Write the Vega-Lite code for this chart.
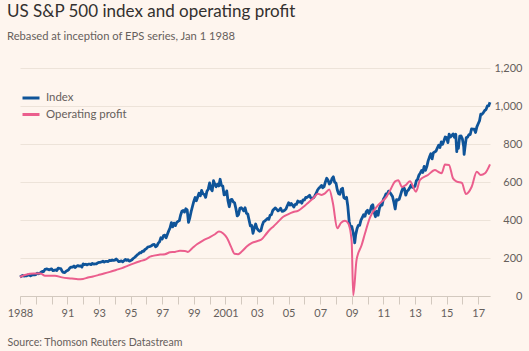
{
"$schema": "https://vega.github.io/schema/vega-lite/v6.json",
"width": 470, "height": 228,
"autosize": {"type": "none"},
"padding": {"left": 20, "top": 68, "right": 39, "bottom": 55},
"background": "#fef5ee",
"title": {"text": "US S&P 500 index and operating profit", "subtitle": "Rebased at inception of EPS series, Jan 1 1988", "anchor": "start", "frame": "bounds", "offset": 19, "fontSize": 17, "fontWeight": "normal", "color": "#33302E", "font": "Lato", "subtitleFont": "Lato", "subtitleColor": "#66605C", "subtitleFontSize": 11.2, "subtitlePadding": 10},
"datasets": {
"index": [
{"d":"1988-01","v":100},{"d":"1988-02","v":104.1},{"d":"1988-03","v":108.4},{"d":"1988-04","v":104.8},{"d":"1988-05","v":105.8},{"d":"1988-06","v":106.1},{"d":"1988-07","v":110.7},{"d":"1988-08","v":110.1},{"d":"1988-09","v":105.9},{"d":"1988-10","v":110.1},{"d":"1988-11","v":112.9},{"d":"1988-12","v":110.8},
{"d":"1989-01","v":112.4},{"d":"1989-02","v":120.4},{"d":"1989-03","v":117.0},{"d":"1989-04","v":119.4},{"d":"1989-05","v":125.3},{"d":"1989-06","v":129.8},{"d":"1989-07","v":128.7},{"d":"1989-08","v":140.1},{"d":"1989-09","v":142.3},{"d":"1989-10","v":141.4},{"d":"1989-11","v":137.8},{"d":"1989-12","v":140.1},
{"d":"1990-01","v":143.1},{"d":"1990-02","v":133.2},{"d":"1990-03","v":134.4},{"d":"1990-04","v":137.6},{"d":"1990-05","v":133.9},{"d":"1990-06","v":146.2},{"d":"1990-07","v":144.9},{"d":"1990-08","v":144.2},{"d":"1990-09","v":130.6},{"d":"1990-10","v":123.9},{"d":"1990-11","v":123.1},{"d":"1990-12","v":130.4},
{"d":"1991-01","v":133.7},{"d":"1991-02","v":139.2},{"d":"1991-03","v":148.6},{"d":"1991-04","v":151.9},{"d":"1991-05","v":151.9},{"d":"1991-06","v":157.8},{"d":"1991-07","v":150.3},{"d":"1991-08","v":157.0},{"d":"1991-09","v":160.1},{"d":"1991-10","v":157.0},{"d":"1991-11","v":158.9},{"d":"1991-12","v":151.9},
{"d":"1992-01","v":168.9},{"d":"1992-02","v":165.5},{"d":"1992-03","v":167.1},{"d":"1992-04","v":163.4},{"d":"1992-05","v":168.0},{"d":"1992-06","v":168.2},{"d":"1992-07","v":165.2},{"d":"1992-08","v":171.7},{"d":"1992-09","v":167.6},{"d":"1992-10","v":169.1},{"d":"1992-11","v":169.5},{"d":"1992-12","v":174.7},
{"d":"1993-01","v":176.4},{"d":"1993-02","v":177.6},{"d":"1993-03","v":179.5},{"d":"1993-04","v":182.9},{"d":"1993-05","v":178.2},{"d":"1993-06","v":182.3},{"d":"1993-07","v":182.6},{"d":"1993-08","v":181.4},{"d":"1993-09","v":187.7},{"d":"1993-10","v":185.8},{"d":"1993-11","v":189.4},{"d":"1993-12","v":187.0},
{"d":"1994-01","v":188.9},{"d":"1994-02","v":195.0},{"d":"1994-03","v":189.1},{"d":"1994-04","v":180.5},{"d":"1994-05","v":182.6},{"d":"1994-06","v":184.8},{"d":"1994-07","v":179.9},{"d":"1994-08","v":185.5},{"d":"1994-09","v":192.5},{"d":"1994-10","v":187.3},{"d":"1994-11","v":191.3},{"d":"1994-12","v":183.7},
{"d":"1995-01","v":186.0},{"d":"1995-02","v":190.4},{"d":"1995-03","v":197.3},{"d":"1995-04","v":202.7},{"d":"1995-05","v":208.4},{"d":"1995-06","v":216.0},{"d":"1995-07","v":220.6},{"d":"1995-08","v":227.6},{"d":"1995-09","v":227.5},{"d":"1995-10","v":236.6},{"d":"1995-11","v":235.4},{"d":"1995-12","v":245.1},
{"d":"1996-01","v":249.4},{"d":"1996-02","v":257.5},{"d":"1996-03","v":259.3},{"d":"1996-04","v":261.3},{"d":"1996-05","v":264.9},{"d":"1996-06","v":270.9},{"d":"1996-07","v":271.5},{"d":"1996-08","v":259.1},{"d":"1996-09","v":264.0},{"d":"1996-10","v":278.3},{"d":"1996-11","v":285.5},{"d":"1996-12","v":306.5},
{"d":"1997-01","v":299.9},{"d":"1997-02","v":318.3},{"d":"1997-03","v":320.2},{"d":"1997-04","v":306.5},{"d":"1997-05","v":324.4},{"d":"1997-06","v":343.4},{"d":"1997-07","v":358.3},{"d":"1997-08","v":386.4},{"d":"1997-09","v":364.2},{"d":"1997-10","v":383.5},{"d":"1997-11","v":370.3},{"d":"1997-12","v":386.8},
{"d":"1998-01","v":392.9},{"d":"1998-02","v":396.9},{"d":"1998-03","v":424.8},{"d":"1998-04","v":446.1},{"d":"1998-05","v":450.1},{"d":"1998-06","v":441.6},{"d":"1998-07","v":459.0},{"d":"1998-08","v":453.7},{"d":"1998-09","v":387.6},{"d":"1998-10","v":411.7},{"d":"1998-11","v":444.8},{"d":"1998-12","v":471.1},
{"d":"1999-01","v":497.7},{"d":"1999-02","v":518.1},{"d":"1999-03","v":501.3},{"d":"1999-04","v":520.8},{"d":"1999-05","v":540.6},{"d":"1999-06","v":527.0},{"d":"1999-07","v":555.8},{"d":"1999-08","v":537.9},{"d":"1999-09","v":534.6},{"d":"1999-10","v":519.3},{"d":"1999-11","v":551.8},{"d":"1999-12","v":562.3},
{"d":"2000-01","v":594.9},{"d":"2000-02","v":564.6},{"d":"2000-03","v":553.2},{"d":"2000-04","v":606.7},{"d":"2000-05","v":588.0},{"d":"2000-06","v":575.1},{"d":"2000-07","v":588.9},{"d":"2000-08","v":579.3},{"d":"2000-09","v":614.4},{"d":"2000-10","v":581.6},{"d":"2000-11","v":578.7},{"d":"2000-12","v":532.5},
{"d":"2001-01","v":534.5},{"d":"2001-02","v":553.0},{"d":"2001-03","v":502.0},{"d":"2001-04","v":469.8},{"d":"2001-05","v":505.9},{"d":"2001-06","v":508.4},{"d":"2001-07","v":495.7},{"d":"2001-08","v":490.4},{"d":"2001-09","v":458.9},{"d":"2001-10","v":421.4},{"d":"2001-11","v":429.1},{"d":"2001-12","v":461.3},
{"d":"2002-01","v":464.8},{"d":"2002-02","v":457.6},{"d":"2002-03","v":448.1},{"d":"2002-04","v":464.5},{"d":"2002-05","v":436.0},{"d":"2002-06","v":432.0},{"d":"2002-07","v":400.7},{"d":"2002-08","v":369.1},{"d":"2002-09","v":370.9},{"d":"2002-10","v":330.1},{"d":"2002-11","v":358.6},{"d":"2002-12","v":379.1},
{"d":"2003-01","v":356.2},{"d":"2003-02","v":346.4},{"d":"2003-03","v":340.6},{"d":"2003-04","v":343.4},{"d":"2003-05","v":371.2},{"d":"2003-06","v":390.1},{"d":"2003-07","v":394.5},{"d":"2003-08","v":400.9},{"d":"2003-09","v":408.1},{"d":"2003-10","v":403.2},{"d":"2003-11","v":425.4},{"d":"2003-12","v":428.4},
{"d":"2004-01","v":450.2},{"d":"2004-02","v":457.9},{"d":"2004-03","v":463.5},{"d":"2004-04","v":456.0},{"d":"2004-05","v":448.3},{"d":"2004-06","v":453.7},{"d":"2004-07","v":461.9},{"d":"2004-08","v":446.0},{"d":"2004-09","v":447.0},{"d":"2004-10","v":451.3},{"d":"2004-11","v":457.6},{"d":"2004-12","v":475.2},
{"d":"2005-01","v":490.6},{"d":"2005-02","v":478.3},{"d":"2005-03","v":487.3},{"d":"2005-04","v":478.0},{"d":"2005-05","v":468.4},{"d":"2005-06","v":482.4},{"d":"2005-07","v":482.3},{"d":"2005-08","v":499.7},{"d":"2005-09","v":494.1},{"d":"2005-10","v":497.5},{"d":"2005-11","v":488.7},{"d":"2005-12","v":505.9},
{"d":"2006-01","v":505.4},{"d":"2006-02","v":518.3},{"d":"2006-03","v":518.5},{"d":"2006-04","v":524.2},{"d":"2006-05","v":530.6},{"d":"2006-06","v":514.2},{"d":"2006-07","v":514.3},{"d":"2006-08","v":516.9},{"d":"2006-09","v":527.9},{"d":"2006-10","v":540.8},{"d":"2006-11","v":557.9},{"d":"2006-12","v":567.1},
{"d":"2007-01","v":574.2},{"d":"2007-02","v":582.3},{"d":"2007-03","v":569.6},{"d":"2007-04","v":575.3},{"d":"2007-05","v":600.2},{"d":"2007-06","v":619.7},{"d":"2007-07","v":608.7},{"d":"2007-08","v":589.2},{"d":"2007-09","v":596.8},{"d":"2007-10","v":618.1},{"d":"2007-11","v":627.3},{"d":"2007-12","v":599.6},
{"d":"2008-01","v":594.5},{"d":"2008-02","v":558.1},{"d":"2008-03","v":538.7},{"d":"2008-04","v":535.5},{"d":"2008-05","v":561.0},{"d":"2008-06","v":567.0},{"d":"2008-07","v":518.2},{"d":"2008-08","v":513.1},{"d":"2008-09","v":519.4},{"d":"2008-10","v":472.2},{"d":"2008-11","v":392.2},{"d":"2008-12","v":362.8},
{"d":"2009-01","v":365.7},{"d":"2009-02","v":334.4},{"d":"2009-03","v":297.6},{"d":"2009-03-09","v":280},{"d":"2009-04","v":323.0},{"d":"2009-05","v":353.4},{"d":"2009-06","v":372.1},{"d":"2009-07","v":372.2},{"d":"2009-08","v":399.8},{"d":"2009-09","v":413.2},{"d":"2009-10","v":428.0},{"d":"2009-11","v":419.5},{"d":"2009-12","v":443.6},
{"d":"2010-01","v":451.5},{"d":"2010-02","v":434.8},{"d":"2010-03","v":447.2},{"d":"2010-04","v":473.4},{"d":"2010-05","v":480.4},{"d":"2010-06","v":441.1},{"d":"2010-07","v":417.3},{"d":"2010-08","v":446.0},{"d":"2010-09","v":424.8},{"d":"2010-10","v":462.0},{"d":"2010-11","v":479.1},{"d":"2010-12","v":478.0},
{"d":"2011-01","v":509.2},{"d":"2011-02","v":520.7},{"d":"2011-03","v":537.3},{"d":"2011-04","v":536.8},{"d":"2011-05","v":552.1},{"d":"2011-06","v":544.6},{"d":"2011-07","v":534.7},{"d":"2011-08","v":523.2},{"d":"2011-09","v":493.5},{"d":"2011-10","v":458.1},{"d":"2011-11","v":507.4},{"d":"2011-12","v":504.9},
{"d":"2012-01","v":509.2},{"d":"2012-02","v":531.3},{"d":"2012-03","v":552.9},{"d":"2012-04","v":570.2},{"d":"2012-05","v":565.9},{"d":"2012-06","v":530.5},{"d":"2012-07","v":551.5},{"d":"2012-08","v":558.4},{"d":"2012-09","v":569.5},{"d":"2012-10","v":583.3},{"d":"2012-11","v":571.7},{"d":"2012-12","v":573.4},
{"d":"2013-01","v":577.4},{"d":"2013-02","v":606.5},{"d":"2013-03","v":613.2},{"d":"2013-04","v":635.3},{"d":"2013-05","v":646.8},{"d":"2013-06","v":660.2},{"d":"2013-07","v":650.3},{"d":"2013-08","v":682.5},{"d":"2013-09","v":661.1},{"d":"2013-10","v":680.8},{"d":"2013-11","v":711.1},{"d":"2013-12","v":731.1},
{"d":"2014-01","v":748.3},{"d":"2014-02","v":721.7},{"d":"2014-03","v":752.8},{"d":"2014-04","v":758.0},{"d":"2014-05","v":762.7},{"d":"2014-06","v":778.8},{"d":"2014-07","v":793.6},{"d":"2014-08","v":781.7},{"d":"2014-09","v":811.1},{"d":"2014-10","v":798.5},{"d":"2014-11","v":817.0},{"d":"2014-12","v":837.1},
{"d":"2015-01","v":833.6},{"d":"2015-02","v":807.7},{"d":"2015-03","v":852.0},{"d":"2015-04","v":837.2},{"d":"2015-05","v":844.3},{"d":"2015-06","v":853.2},{"d":"2015-07","v":835.3},{"d":"2015-08","v":851.7},{"d":"2015-08-25","v":760},{"d":"2015-09","v":798.5},{"d":"2015-10","v":777.3},{"d":"2015-11","v":841.9},{"d":"2015-12","v":842.3},
{"d":"2016-01","v":827.5},{"d":"2016-02","v":785.5},{"d":"2016-02-11","v":745},{"d":"2016-03","v":782.3},{"d":"2016-04","v":833.9},{"d":"2016-05","v":836.2},{"d":"2016-06","v":849.0},{"d":"2016-07","v":849.8},{"d":"2016-08","v":880.0},{"d":"2016-09","v":878.9},{"d":"2016-10","v":877.9},{"d":"2016-11","v":860.8},{"d":"2016-12","v":890.3},
{"d":"2017-01","v":906.4},{"d":"2017-02","v":922.6},{"d":"2017-03","v":956.9},{"d":"2017-04","v":956.6},{"d":"2017-05","v":965.3},{"d":"2017-06","v":976.4},{"d":"2017-07","v":981.1},{"d":"2017-08","v":1000.1},{"d":"2017-09","v":1000.7},{"d":"2017-10","v":1020.0}
],
"profit": [
{"d":"1988-01-01","v":100},{"d":"1988-05-15","v":112},{"d":"1988-11-20","v":118},{"d":"1989-04-20","v":118},{"d":"1989-08-01","v":107},{"d":"1990-03-20","v":107},{"d":"1990-08-28","v":98},{"d":"1991-04-15","v":92},{"d":"1991-09-01","v":88},{"d":"1991-12-28","v":90},{"d":"1992-04-20","v":97},{"d":"1992-08-15","v":103},{"d":"1992-12-10","v":110},{"d":"1993-04-25","v":118},{"d":"1993-09-12","v":127},{"d":"1994-01-30","v":137},{"d":"1994-06-17","v":147},{"d":"1994-11-03","v":160},{"d":"1995-03-20","v":172},{"d":"1995-08-05","v":183},{"d":"1995-12-20","v":193},{"d":"1996-03-25","v":207},{"d":"1996-11-10","v":218},{"d":"1997-03-07","v":220},{"d":"1997-07-01","v":230},{"d":"1997-10-23","v":232},{"d":"1998-02-16","v":238},{"d":"1998-06-10","v":237},{"d":"1998-08-18","v":232},{"d":"1998-11-20","v":250},{"d":"1999-03-15","v":272},{"d":"1999-07-30","v":292},{"d":"2000-01-10","v":310},{"d":"2000-05-05","v":325},{"d":"2000-08-05","v":339},{"d":"2000-11-05","v":330},{"d":"2001-02-07","v":305},{"d":"2001-05-10","v":260},{"d":"2001-07-30","v":222},{"d":"2001-10-20","v":220},{"d":"2002-01-20","v":235},{"d":"2002-05-15","v":262},{"d":"2002-09-07","v":280},{"d":"2003-01-23","v":290},{"d":"2003-04-27","v":300},{"d":"2003-07-27","v":325},{"d":"2003-10-28","v":350},{"d":"2004-01-11","v":365},{"d":"2004-05-01","v":390},{"d":"2004-08-30","v":417},{"d":"2004-12-17","v":430},{"d":"2005-04-20","v":442},{"d":"2005-08-05","v":448},{"d":"2005-12-05","v":468},{"d":"2006-03-25","v":490},{"d":"2006-07-24","v":514},{"d":"2006-11-10","v":538},{"d":"2007-02-03","v":532},{"d":"2007-04-20","v":540},{"d":"2007-07-30","v":561},{"d":"2007-10-23","v":488},{"d":"2008-01-30","v":356},{"d":"2008-04-26","v":385},{"d":"2008-07-27","v":396},{"d":"2008-10-12","v":382},{"d":"2008-12-28","v":290},{"d":"2009-02-03","v":3},{"d":"2009-04-21","v":190},{"d":"2009-08-17","v":268},{"d":"2009-11-03","v":330},{"d":"2010-02-24","v":412},{"d":"2010-09-05","v":479},{"d":"2011-03-17","v":523},{"d":"2011-06-25","v":565},{"d":"2011-09-24","v":602},{"d":"2011-12-10","v":609},{"d":"2012-03-07","v":574},{"d":"2012-06-07","v":585},{"d":"2012-09-07","v":604},{"d":"2013-01-23","v":549},{"d":"2013-04-27","v":611},{"d":"2013-10-28","v":637},{"d":"2014-04-07","v":663},{"d":"2014-06-21","v":654},{"d":"2014-09-08","v":646},{"d":"2014-11-25","v":692},{"d":"2015-02-25","v":690},{"d":"2015-05-30","v":619},{"d":"2015-08-29","v":602},{"d":"2015-12-20","v":595},{"d":"2016-03-25","v":537},{"d":"2016-08-04","v":575},{"d":"2016-11-29","v":654},{"d":"2017-03-01","v":637},{"d":"2017-06-07","v":646},{"d":"2017-10-01","v":693}
]
},
"layer": [
{
"data": {"name": "index"},
"mark": {"type": "line", "strokeWidth": 2.8, "strokeJoin": "round"},
"encoding": {
"x": {"field": "d", "type": "temporal",
 "scale": {"type": "utc", "domain": [{"year": 1988, "month": 1, "date": 1, "utc": true}, {"year": 2017, "month": 10, "date": 1, "utc": true}]},
 "axis": {"title": "Source: Thomson Reuters Datastream", "titleX": -13, "titleY": 46, "titleAlign": "left", "titleAnchor": "start", "titleBaseline": "middle", "titleFontSize": 10.6, "titleFontWeight": "normal", "titleColor": "#66605C", "titleFont": "Lato",
  "tickCount": {"interval": "year", "step": 1},
  "labelExpr": "utcyear(datum.value) == 1988 || utcyear(datum.value) == 2001 ? utcFormat(datum.value, '%Y') : ((utcyear(datum.value) % 2 == 1 && utcyear(datum.value) != 1989) ? utcFormat(datum.value, '%y') : '')",
  "labelFlush": false, "labelOverlap": false, "labelFontSize": 11, "labelColor": "#66605C", "labelFont": "Lato", "labelPadding": 3, "tickSize": 8, "tickColor": "#d3c9bf", "domainColor": "#d3c9bf", "grid": false}},
"y": {"field": "v", "type": "quantitative",
 "scale": {"domain": [0, 1200], "nice": false},
 "axis": {"orient": "right", "title": null, "values": [0, 200, 400, 600, 800, 1000, 1200], "tickCount": 7, "format": ",.0f", "labelOverlap": false, "labelBound": false, "domain": false, "ticks": false, "labelAlign": "right", "labelPadding": 32, "labelFontSize": 11, "labelColor": "#66605C", "labelFont": "Lato", "grid": true, "gridColor": "#ede3d9", "gridWidth": 1}},
"color": {"datum": "Index", "type": "nominal",
 "scale": {"domain": ["Index", "Operating profit"], "range": ["#0f5499", "#eb5e8d"]},
 "legend": {"orient": "none", "legendX": 1, "legendY": 20, "title": null, "symbolType": "stroke", "symbolSize": 289, "symbolStrokeWidth": 3, "labelFontSize": 11.4, "labelColor": "#66605C", "labelFont": "Lato", "labelOffset": 5, "rowPadding": 0.5, "padding": 0}}
}
},
{
"data": {"name": "profit"},
"mark": {"type": "line", "strokeWidth": 2, "interpolate": "monotone"},
"encoding": {
"x": {"field": "d", "type": "temporal"},
"y": {"field": "v", "type": "quantitative",
 "axis": {"orient": "right", "title": null, "values": [0, 200, 400, 600, 800, 1000, 1200], "tickCount": 7, "format": ",.0f", "labelOverlap": false, "labelBound": false, "domain": false, "ticks": false, "labelAlign": "right", "labelPadding": 32, "labelFontSize": 11, "labelColor": "#66605C", "labelFont": "Lato", "grid": true, "gridColor": "#ede3d9", "gridWidth": 1}},
"color": {"datum": "Operating profit", "type": "nominal"}
}
}
],
"config": {"view": {"stroke": null}, "font": "Lato", "axis": {"labelOverlap": false}}
}
